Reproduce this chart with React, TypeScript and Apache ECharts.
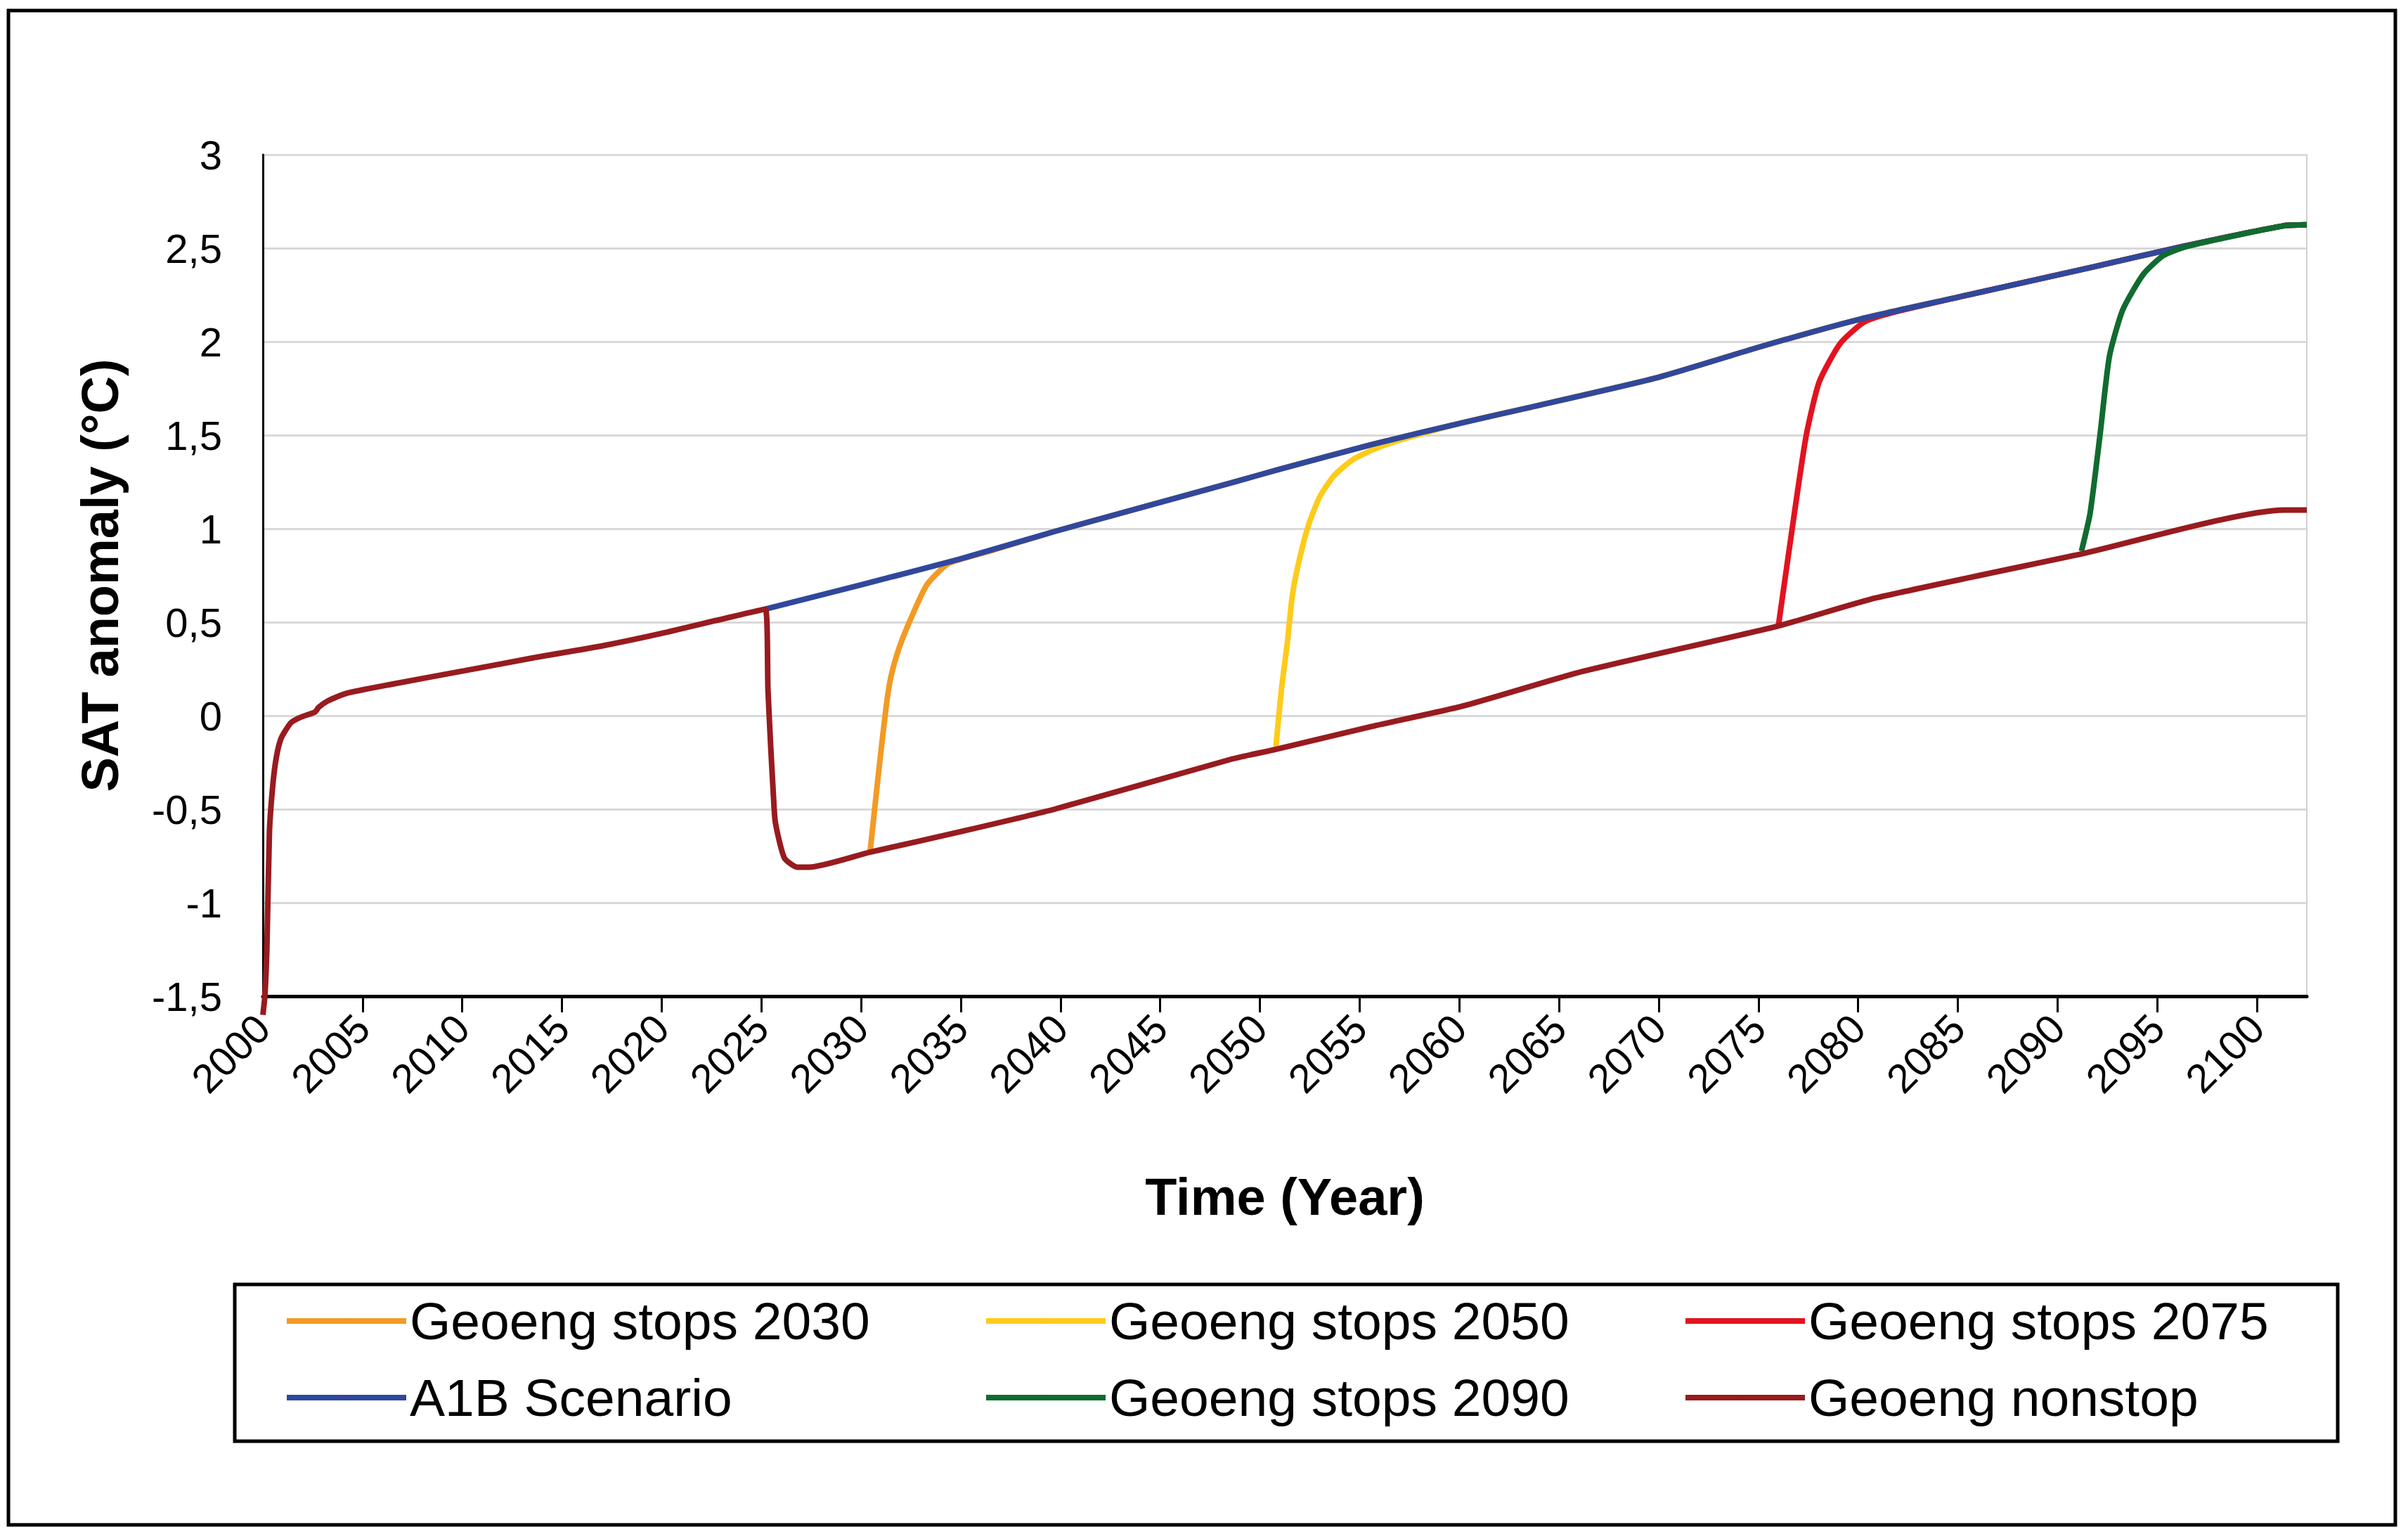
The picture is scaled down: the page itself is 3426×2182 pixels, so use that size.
import React, { useEffect, useRef } from "react";
import * as echarts from "echarts";

// ---- data ----
const xTickYears = [
  2000, 2005, 2010, 2015, 2020, 2025, 2030, 2035, 2040, 2045, 2050,
  2055, 2060, 2065, 2070, 2075, 2080, 2085, 2090, 2095, 2100,
];

const a1bScenario: [number, number][] = [
  [2025.2, 0.57], [2030, 0.7], [2034.9, 0.836], [2039.7, 0.985],
  [2048.55, 1.245], [2050.9, 1.315], [2055.6, 1.45], [2060.3, 1.57],
  [2063.6, 1.65], [2070, 1.81], [2075, 1.97], [2080.08, 2.12],
  [2085.1, 2.24], [2091.8, 2.4], [2096.3, 2.51], [2101.35, 2.62],
  [2102.5, 2.625],
];

const geoengNonstop: [number, number][] = [
  [2000.0, -1.6], [2000.1, -1.5], [2000.2, -1.25], [2000.33, -0.62],
  [2000.5, -0.37], [2000.68, -0.22], [2000.92, -0.12], [2001.39, -0.04],
  [2001.86, -0.01], [2002.62, 0.02], [2002.8, 0.045], [2003.27, 0.08],
  [2004.2, 0.12], [2006.56, 0.17], [2010.09, 0.24], [2013.6, 0.31],
  [2017.1, 0.375], [2020, 0.44], [2025.2, 0.57], [2025.33, 0.14],
  [2025.47, -0.17], [2025.6, -0.42], [2025.7, -0.57], [2026.15, -0.76],
  [2026.8, -0.81], [2027.4, -0.81], [2030.45, -0.73], [2035, -0.62],
  [2039.7, -0.5], [2048.55, -0.233], [2050.8, -0.18], [2055.6, -0.058],
  [2060.3, 0.055], [2066.2, 0.237], [2076, 0.48], [2080.9, 0.63],
  [2091.2, 0.865], [2101.35, 1.1], [2102.5, 1.1],
];

const stops2030: [number, number][] = [
  [2030.45, -0.73], [2030.86, -0.32], [2031.26, 0.05], [2031.5, 0.21],
  [2031.9, 0.36], [2032.5, 0.52], [2033.3, 0.7], [2034.4, 0.815],
  [2036.3, 0.875],
];

const stops2050: [number, number][] = [
  [2050.79, -0.18], [2051.08, 0.14], [2051.38, 0.395], [2051.63, 0.645],
  [2051.97, 0.83], [2052.44, 1.02], [2053.0, 1.17], [2053.73, 1.285],
  [2054.67, 1.37], [2055.85, 1.43], [2057.37, 1.485],
];

const stops2075: [number, number][] = [
  [2076.0, 0.48], [2076.2, 0.63], [2076.8, 1.08], [2077.4, 1.5],
  [2078.05, 1.785], [2079.1, 1.99], [2080.3, 2.105], [2081.7, 2.155],
];

const stops2090: [number, number][] = [
  [2091.2, 0.88], [2091.63, 1.08], [2092.13, 1.5], [2092.6, 1.92],
  [2093.27, 2.17], [2094.3, 2.36], [2095.3, 2.46], [2096.5, 2.51],
];

const seriesNames = [
  "Geoeng stops 2030",
  "Geoeng stops 2050",
  "Geoeng stops 2075",
  "A1B Scenario",
  "Geoeng stops 2090",
  "Geoeng nonstop",
];

const seriesColors = ["#F39A24", "#FDCB1A", "#E2131F", "#30489C", "#116B2F", "#981B1F"];

// after a stop curve merges, it follows the A1B line
const joinA1B = (pts: [number, number][]) => {
  const last = pts[pts.length - 1][0];
  return [...pts, ...a1bScenario.filter((p) => p[0] > last + 1)];
};

const FONT = "'Liberation Sans', Arial, Helvetica, sans-serif";

export default function App() {
  const ref = useRef<HTMLDivElement>(null);

  useEffect(() => {
    if (!ref.current) return;
    const chart = echarts.init(ref.current, null, { renderer: "svg" });

    const seriesData = [
      joinA1B(stops2030),
      joinA1B(stops2050),
      joinA1B(stops2075),
      a1bScenario,
      joinA1B(stops2090),
      geoengNonstop,
    ];

    const option: any = {
      animation: false,
      backgroundColor: "#ffffff",
      textStyle: { fontFamily: FONT },
      graphic: [
        {
          type: "rect",
          shape: { x: 12, y: 15, width: 3396, height: 2154 },
          style: { fill: "none", stroke: "#000", lineWidth: 5 },
          silent: true,
        },
        {
          type: "rect",
          shape: { x: 334, y: 1827, width: 2992, height: 223 },
          style: { fill: "none", stroke: "#000", lineWidth: 5 },
          silent: true,
        },
      ],
      grid: {
        left: 374,
        right: 144,
        top: 220,
        bottom: 765,
        show: true,
        borderColor: "#d0d0d0",
        borderWidth: 2,
        containLabel: false,
      },
      legend: {
        data: seriesNames,
        left: 404,
        top: 1834,
        width: 3100,
        padding: 0,
        itemWidth: 170,
        itemHeight: 8,
        itemGap: 19,
        selectedMode: false,
        lineStyle: { width: 8 },
        textStyle: {
          fontFamily: FONT,
          fontSize: 75,
          color: "#000",
          width: 797,
          lineHeight: 90,
          overflow: "none",
        },
      },
      xAxis: {
        type: "value",
        min: 2000,
        max: 2102.5,
        interval: 5,
        name: "Time (Year)",
        nameLocation: "middle",
        nameGap: 248,
        nameTextStyle: { fontFamily: FONT, fontSize: 74, fontWeight: "bold", color: "#000" },
        axisLine: { show: true, onZero: false, lineStyle: { color: "#000", width: 5 } },
        axisTick: {
          show: true,
          length: 23,
          customValues: xTickYears,
          lineStyle: { color: "#000", width: 3 },
        },
        axisLabel: {
          rotate: 45,
          margin: 36,
          fontFamily: FONT,
          fontSize: 58,
          color: "#000",
          customValues: xTickYears,
          formatter: (v: number) => String(v),
        },
        splitLine: { show: false },
      },
      yAxis: {
        type: "value",
        min: -1.5,
        max: 3,
        interval: 0.5,
        name: "SAT anomaly (°C)",
        nameLocation: "middle",
        nameRotate: 90,
        nameGap: 195,
        nameTextStyle: { fontFamily: FONT, fontSize: 74, fontWeight: "bold", color: "#000" },
        axisLine: { show: true, onZero: false, lineStyle: { color: "#000", width: 3 } },
        axisTick: { show: false },
        axisLabel: {
          margin: 58,
          fontFamily: FONT,
          fontSize: 58,
          color: "#000",
          formatter: (v: number) => String(v).replace(".", ","),
        },
        splitLine: { show: true, lineStyle: { color: "#d9d9d9", width: 3 } },
      },
      series: seriesNames.map((name, i) => ({
        name,
        type: "line",
        data: seriesData[i],
        symbol: "none",
        showSymbol: false,
        smooth: 0.2,
        clip: name !== "Geoeng nonstop",
        color: seriesColors[i],
        lineStyle: { color: seriesColors[i], width: 8 },
        emphasis: { disabled: true },
        z: 2 + i,
      })),
    };

    chart.setOption(option);
    return () => chart.dispose();
  }, []);

  return (
    <div
      ref={ref}
      style={{
        position: "fixed",
        left: 0,
        top: 0,
        width: 3426,
        height: 2182,
        background: "#fff",
      }}
    />
  );
}
